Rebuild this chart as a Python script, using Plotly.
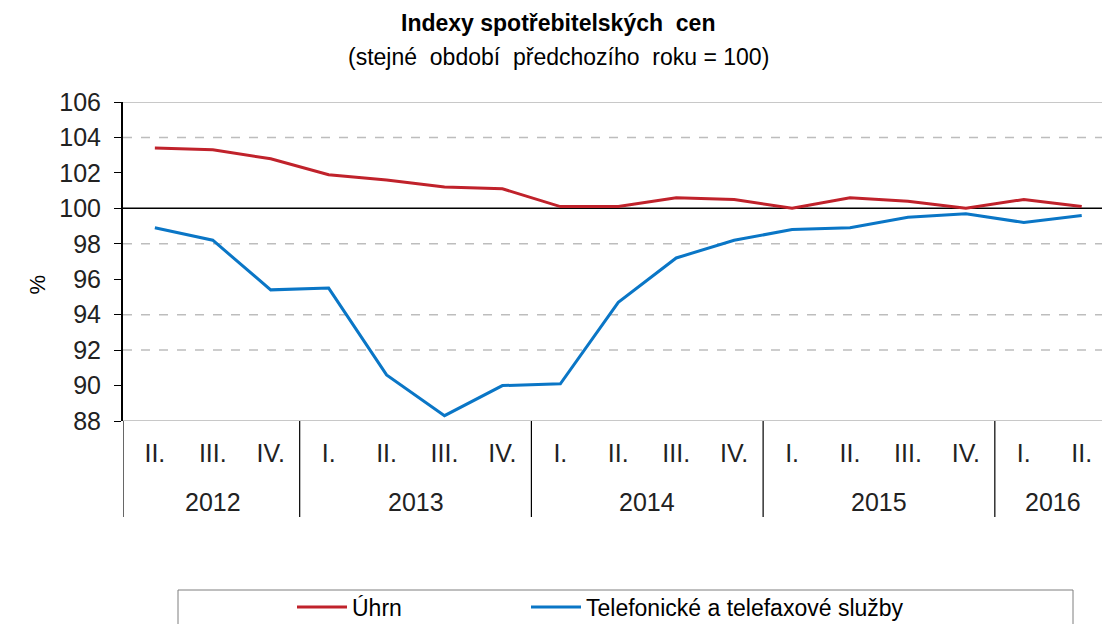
import plotly.graph_objects as go

# Kvartály a roky
years = ["2012"] * 3 + ["2013"] * 4 + ["2014"] * 4 + ["2015"] * 4 + ["2016"] * 2
quarters = ["II.", "III.", "IV.",
            "I.", "II.", "III.", "IV.",
            "I.", "II.", "III.", "IV.",
            "I.", "II.", "III.", "IV.",
            "I.", "II."]

# Indexy (stejné období předchozího roku = 100)
uhrn = [103.4, 103.3, 102.8, 101.9, 101.6, 101.2, 101.1, 100.1, 100.1,
        100.6, 100.5, 100.0, 100.6, 100.4, 100.0, 100.5, 100.1]
telefon = [98.9, 98.2, 95.4, 95.5, 90.6, 88.3, 90.0, 90.1, 94.7,
           97.2, 98.2, 98.8, 98.9, 99.5, 99.7, 99.2, 99.6]

FONT = "Liberation Sans"
TXT = "#222222"
RED = "#C0222B"
BLUE = "#0A76C6"
W, H = 1102, 624
L, T, B = 123, 102, 203
PW, PH = W - L, H - T - B
XMIN, XMAX = -0.55, 16.35

idx = list(range(len(quarters)))


def px(pix):
    return (pix - L) / PW


def py(pix):
    return (H - B - pix) / PH


fig = go.Figure()
fig.add_trace(go.Scatter(x=idx, y=uhrn, mode="lines", name="Úhrn",
                         line=dict(color=RED, width=3), legend="legend"))
fig.add_trace(go.Scatter(x=idx, y=telefon, mode="lines",
                         name="Telefonické a telefaxové služby",
                         line=dict(color=BLUE, width=3), legend="legend2"))

# mřížka
for v in [104, 98, 94, 92]:
    fig.add_hline(y=v, line=dict(color="#BDBDBD", width=1.5, dash="dash"), layer="below")
for v in [106, 88]:
    fig.add_hline(y=v, line=dict(color="#C8C8C8", width=2), layer="below")
fig.add_hline(y=100, line=dict(color="black", width=1.5), layer="below")

# roky a oddělovače skupin
groups = []
for i, yr in enumerate(years):
    if not groups or groups[-1][0] != yr:
        groups.append([yr, i, i])
    else:
        groups[-1][2] = i
for k, (yr, i0, i1) in enumerate(groups):
    x0 = XMIN if k == 0 else i0 - 0.5
    fig.add_shape(type="line", xref="x", yref="paper", x0=x0, x1=x0,
                  y0=0, y1=py(517), line=dict(color="black", width=1.2))
    fig.add_annotation(text=yr, xref="x", yref="paper", x=(i0 + i1) / 2, y=py(502),
                       yanchor="middle", showarrow=False,
                       font=dict(family=FONT, size=25, color=TXT))

# rámeček legendy (spodní okraj je oříznutý)
fig.add_shape(type="rect", xref="paper", yref="paper",
              x0=px(178), x1=px(1073), y0=py(640), y1=py(590),
              line=dict(color="#7F7F7F", width=1), fillcolor="white", layer="below")

fig.add_annotation(text="<b>Indexy spotřebitelských  cen</b>", xref="paper", yref="paper",
                   x=px(558), y=py(23), yanchor="middle", showarrow=False,
                   font=dict(family=FONT, size=23, color="black"))
fig.add_annotation(text="(stejné  období  předchozího  roku = 100)", xref="paper", yref="paper",
                   x=px(558), y=py(57), yanchor="middle", showarrow=False,
                   font=dict(family=FONT, size=23, color="black"))
fig.add_annotation(text="%", xref="paper", yref="paper", textangle=-90,
                   x=px(22), y=py(285), yanchor="middle", showarrow=False,
                   font=dict(family=FONT, size=22, color="black"))

leg_common = dict(orientation="h", xref="container", yref="container",
                  xanchor="left", yanchor="middle", y=1 - 607 / H, itemwidth=50,
                  font=dict(family=FONT, size=23, color="black"),
                  bgcolor="rgba(0,0,0,0)", borderwidth=0)
fig.update_layout(
    width=W, height=H,
    margin=dict(l=L, r=0, t=T, b=B, autoexpand=False),
    paper_bgcolor="white", plot_bgcolor="white",
    font=dict(family=FONT, size=25, color=TXT),
    showlegend=True,
    legend=dict(x=292 / W, **leg_common),
    legend2=dict(x=526 / W, **leg_common),
)
fig.update_xaxes(range=[XMIN, XMAX], tickvals=idx, ticktext=quarters,
                 showgrid=False, showline=False, zeroline=False, ticks="",
                 ticklabelstandoff=15,
                 tickfont=dict(family=FONT, size=25, color=TXT))
fig.update_yaxes(range=[88, 106], dtick=2, showgrid=False, zeroline=False,
                 showline=True, linecolor="black", linewidth=2,
                 ticks="outside", ticklen=7, tickcolor="black",
                 ticklabelstandoff=8,
                 tickfont=dict(family=FONT, size=25, color=TXT))

# bez výchozího okraje stránky a bez lišty nástrojů
fig.write_html("out.html", config={"displayModeBar": False},
               post_script="document.body.style.margin='0';")
